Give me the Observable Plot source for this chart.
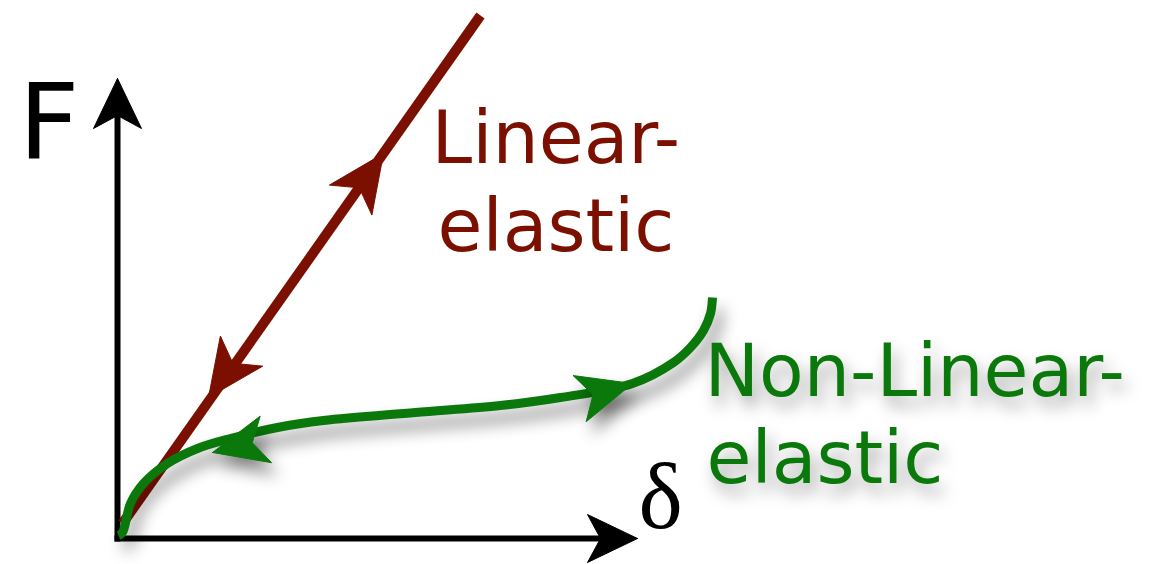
<!DOCTYPE html>
<html>
<head>
<meta charset="utf-8">
<script src="https://cdn.jsdelivr.net/npm/d3@7"></script>
<script src="https://cdn.jsdelivr.net/npm/@observablehq/plot@0.6"></script>
<style>
  html, body { margin: 0; padding: 0; background: #fff; }
</style>
</head>
<body>
<div id="chart"></div>
<script>
// ---- Data (δ = deformation, F = force; origin at the axes corner) ----
const redColor = "#7b1000";
const greenColor = "#0a780a";
const axisColor = "#000000";

// Linear-elastic straight line
const linearDelta = [0.05, 3.63];
const linearF     = [0.15, 5.23];

// Non-linear-elastic curve
const nonlinDelta = [0.01, 0.05, 0.13, 0.26, 0.50, 0.80, 1.13, 1.60, 2.06, 2.98, 3.83, 4.43, 5.15, 5.56, 5.73, 5.86, 5.93, 5.95];
const nonlinF     = [0.03, 0.06, 0.35, 0.55, 0.75, 0.90, 1.00, 1.11, 1.18, 1.26, 1.33, 1.41, 1.55, 1.76, 1.91, 2.08, 2.25, 2.41];

// Axes (line ends and arrow tips)
const axisNames  = ["F", "δ"];
const axisStartD = [0, -0.03];
const axisStartF = [-0.03, 0];
const axisEndD   = [0, 4.95];
const axisEndF   = [4.25, 0];
const axisTipD   = [0, 5.20];
const axisTipF   = [4.60, 0];

// Direction arrows on the curves: tail point -> tip point
const arrowSeries = ["linear", "linear", "nonlinear", "nonlinear"];
const arrowTailD  = [0.05, 3.63, 4.66, 1.44];
const arrowTailF  = [0.15, 5.23, 1.41, 0.98];
const arrowTipD   = [2.66, 0.91, 5.15, 0.95];
const arrowTipF   = [3.85, 1.41, 1.55, 0.86];

// Text labels
const labelText  = ["F", "Linear-", "elastic", "Non-Linear-", "elastic", "δ"];
const labelDelta = [-0.99, 3.14, 3.20, 5.87, 5.89, 5.21];
const labelF     = [3.80, 3.76, 2.88, 1.43, 0.56, 0.11];
const labelColor = [axisColor, redColor, redColor, greenColor, greenColor, axisColor];

// ---- Build tables ----
const linearLine = linearDelta.map((d, i) => ({d, f: linearF[i]}));
const nonlinLine = nonlinDelta.map((d, i) => ({d, f: nonlinF[i]}));

const axisLines = axisNames.flatMap((name, i) => [
  {name, d: axisStartD[i], f: axisStartF[i]},
  {name, d: axisEndD[i], f: axisEndF[i]}
]);

function head(id, tailD, tailF, tipD, tipF, L, W, N, color) {
  const dx = tipD - tailD, dy = tipF - tailF;
  const n = Math.hypot(dx, dy);
  const ux = dx / n, uy = dy / n;
  const px = -uy, py = ux;
  return [
    {id, color, d: tipD, f: tipF},
    {id, color, d: tipD - ux * L + px * W, f: tipF - uy * L + py * W},
    {id, color, d: tipD - ux * (L - N), f: tipF - uy * (L - N)},
    {id, color, d: tipD - ux * L - px * W, f: tipF - uy * L - py * W},
    {id, color, d: tipD, f: tipF}
  ];
}

const axisHeads = axisNames.flatMap((name, i) =>
  head("axis" + i, axisStartD[i], axisStartF[i], axisTipD[i], axisTipF[i], 0.50, 0.24, 0.13, axisColor));
const redHeads = arrowSeries.flatMap((s, i) => s === "linear"
  ? head("r" + i, arrowTailD[i], arrowTailF[i], arrowTipD[i], arrowTipF[i], 0.57, 0.26, 0.15, redColor) : []);
const greenHeads = arrowSeries.flatMap((s, i) => s === "nonlinear"
  ? head("g" + i, arrowTailD[i], arrowTailF[i], arrowTipD[i], arrowTipF[i], 0.55, 0.24, 0.14, greenColor) : []);

const labels = labelText.map((t, i) => ({t, d: labelDelta[i], f: labelF[i], color: labelColor[i]}));
const redLabels = labels.filter(l => l.color === redColor);
const greenLabels = labels.filter(l => l.color === greenColor);
const blackLabels = labels.filter(l => l.color === axisColor);

function textMark(data, size, font, desc) {
  return Plot.text(data, {
    x: "d", y: "f", text: "t", fill: "color",
    fontSize: size, fontFamily: font,
    textAnchor: "start", lineAnchor: "bottom", ariaDescription: desc
  });
}

const chart = Plot.plot({
  width: 1157,
  height: 564,
  marginTop: 0, marginRight: 0, marginBottom: 0, marginLeft: 0,
  x: {domain: [-1.17, 10.40], axis: null},
  y: {domain: [-0.26, 5.38], axis: null},
  color: {type: "identity"},
  style: {background: "#fff", overflow: "visible"},
  marks: [
    Plot.line(axisLines, {x: "d", y: "f", z: "name", stroke: axisColor, strokeWidth: 6, strokeLinecap: "butt"}),
    Plot.line(axisHeads, {x: "d", y: "f", z: "id", fill: "color", stroke: "color", strokeWidth: 1, strokeLinejoin: "miter"}),
    Plot.line(linearLine, {x: "d", y: "f", stroke: redColor, strokeWidth: 10, strokeLinecap: "butt"}),
    Plot.line(redHeads, {x: "d", y: "f", z: "id", fill: "color", stroke: "color", strokeWidth: 1, strokeLinejoin: "miter"}),
    Plot.line(nonlinLine, {x: "d", y: "f", stroke: greenColor, strokeWidth: 9, curve: "catmull-rom", strokeLinecap: "butt", ariaDescription: "green-curve"}),
    Plot.line(greenHeads, {x: "d", y: "f", z: "id", fill: "color", stroke: "color", strokeWidth: 1, strokeLinejoin: "miter", ariaDescription: "green-heads"}),
    textMark(blackLabels.slice(0, 1), 106, "DejaVu Sans", "label-F"),
    textMark(blackLabels.slice(1), 94, "Liberation Serif", "label-delta"),
    textMark(redLabels, 73, "DejaVu Sans", "label-red"),
    textMark(greenLabels, 73, "DejaVu Sans", "label-green")
  ]
});

d3.select(chart).selectAll('[aria-description="green-curve"], [aria-description="green-heads"]')
  .style("filter", "drop-shadow(6px 12px 8px rgba(0,0,0,0.45))");
d3.select(chart).selectAll('[aria-description="label-green"]')
  .style("filter", "drop-shadow(5px 10px 8px rgba(0,0,0,0.35))");

document.getElementById("chart").appendChild(chart);
</script>
</body>
</html>
